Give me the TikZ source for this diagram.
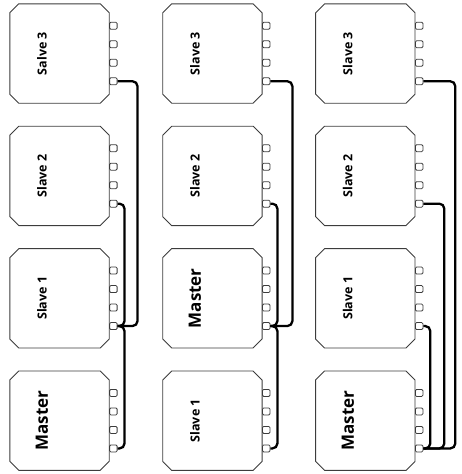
\documentclass[tikz,border=0pt]{standalone}
\usepackage{fontspec}
\setsansfont{Open Sans}
\usetikzlibrary{positioning}
\definecolor{edge}{HTML}{3C3C3C}

\begin{document}
\begin{tikzpicture}[x=1pt, y=-1pt, node distance=23pt and 53.5pt,
        unit/.style={rectangle, minimum width=99pt, minimum height=99pt, inner sep=0pt},
        rim/.style={draw=edge, line width=.9pt},
        port/.style={draw=edge, line width=.8pt, fill=white, rounded corners=1.2pt,
                     minimum width=7.5pt, minimum height=7pt, inner sep=0pt, anchor=west},
        tag/.style={rotate=90, font=\sffamily\bfseries\fontsize{12.5}{14}\selectfont},
        big/.style={rotate=90, font=\sffamily\bfseries\fontsize{17}{19}\selectfont},
        cable/.style={line width=2.3pt, rounded corners=5pt}]
    \useasboundingbox (0,0) rectangle (461,474);

    % daisy chain
    \node [unit] (s3a) at (59.5,53.5) {};
    \node [unit, below=of s3a] (s2a) {};
    \node [unit, below=of s2a] (s1a) {};
    \node [unit, below=of s1a] (ma)  {};
    % master in the middle
    \node [unit, right=of s3a] (s3b) {};
    \node [unit, below=of s3b] (s2b) {};
    \node [unit, below=of s2b] (mb)  {};
    \node [unit, below=of mb]  (s1b) {};
    % star
    \node [unit, right=of s3b] (s3c) {};
    \node [unit, below=of s3c] (s2c) {};
    \node [unit, below=of s2c] (s1c) {};
    \node [unit, below=of s1c] (mc)  {};

    \foreach \u/\txt/\sty in {s3a/Salve 3/tag, s2a/Slave 2/tag, s1a/Slave 1/tag, ma/Master/big,
                              s3b/Slave 3/tag, s2b/Slave 2/tag, mb/Master/big, s1b/Slave 1/tag,
                              s3c/Slave 3/tag, s2c/Slave 2/tag, s1c/Slave 1/tag, mc/Master/big}{
        \draw [rim] ([shift={(9,0)}]\u.north west) -- ([shift={(-9,0)}]\u.north east)
                 -- ([shift={(0,9)}]\u.north east) -- ([shift={(0,-9)}]\u.south east)
                 -- ([shift={(-9,0)}]\u.south east) -- ([shift={(9,0)}]\u.south west)
                 -- ([shift={(0,-9)}]\u.south west) -- ([shift={(0,9)}]\u.north west) -- cycle;
        \node [\sty] (\u-t) at ([shift={(-17.5,0)}]\u.center) {\txt};
        \foreach \k/\dy in {1/-27.75, 2/-9.25, 3/9.25, 4/27.75}
            \node [port] (\u-\k) at ([shift={(0,\dy)}]\u.east) {};
    }

    \draw [cable] (s3a-4.east) -- ++(20,0) |- (s1a-4.east);
    \draw [cable] (s2a-4.east) -- ++(7,0)  |- (s1a-4.east);
    \draw [cable] (ma-4.east)  -- ++(7,0)  |- (s1a-4.east);

    \draw [cable] (s3b-4.east) -- ++(22,0) |- (mb-4.east);
    \draw [cable] (s2b-4.east) -- ++(7,0)  |- (mb-4.east);
    \draw [cable] (s1b-4.east) -- ++(7,0)  |- (mb-4.east);

    \draw [cable] (s3c-4.east) -- ++(32,0) |- (mc-4.east);
    \draw [cable] (s2c-4.east) -- ++(21,0) |- (mc-4.east);
    \draw [cable] (s1c-4.east) -- ++(7,0)  |- (mc-4.east);
\end{tikzpicture}
\end{document}
